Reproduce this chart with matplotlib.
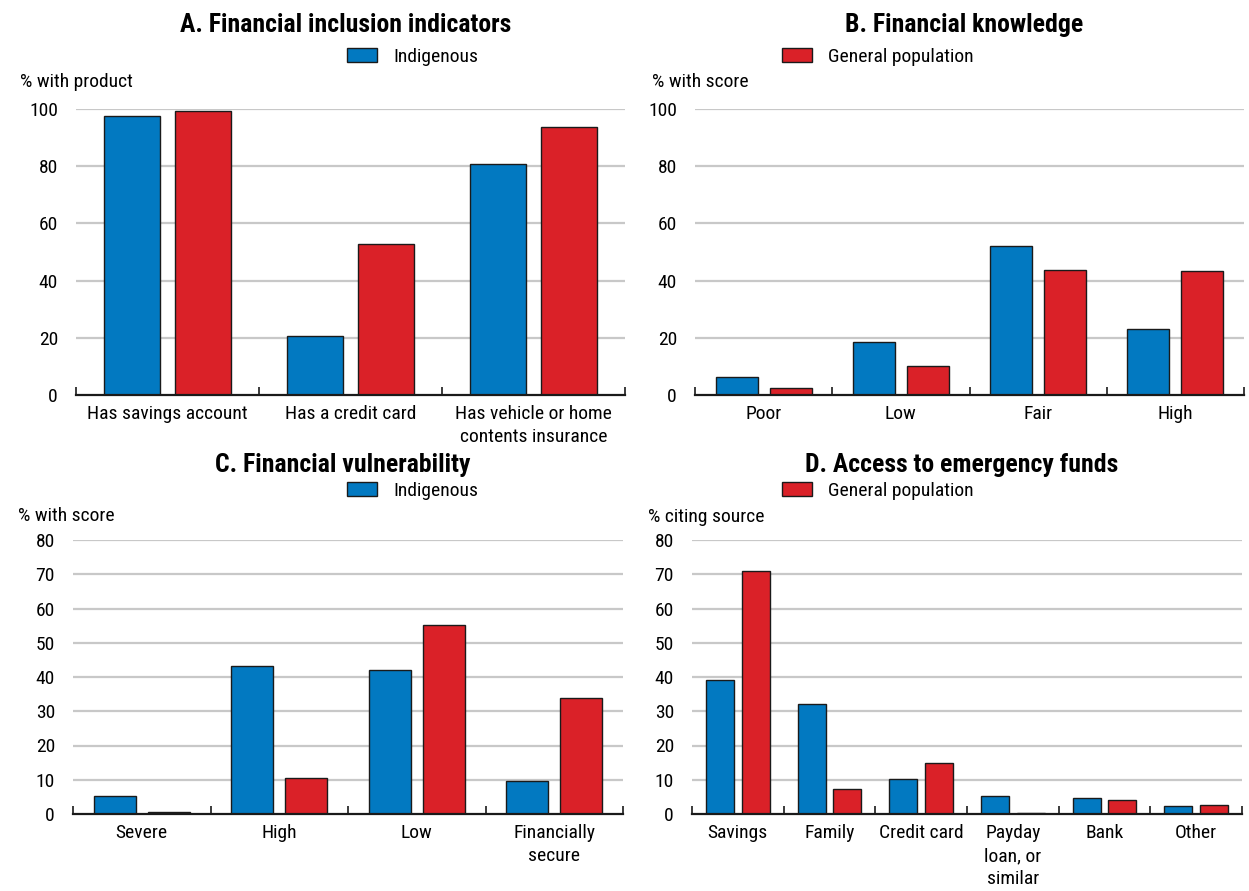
import matplotlib
matplotlib.use("Agg")
import matplotlib.pyplot as plt
import numpy as np
from matplotlib.patches import Patch
from matplotlib.ticker import FixedLocator
from matplotlib import font_manager

# ---- data ----
cats_a = ["Has savings account", "Has a credit card", "Has vehicle or home\ncontents insurance"]
indig_a = [97.6, 20.7, 80.8]
gen_a = [99.3, 52.8, 93.7]

cats_b = ["Poor", "Low", "Fair", "High"]
indig_b = [6.3, 18.5, 52.1, 23.0]
gen_b = [2.4, 10.2, 43.7, 43.5]

cats_c = ["Severe", "High", "Low", "Financially\nsecure"]
indig_c = [5.3, 43.2, 42.0, 9.6]
gen_c = [0.6, 10.5, 55.2, 33.9]

cats_d = ["Savings", "Family", "Credit card", "Payday\nloan, or\nsimilar", "Bank", "Other"]
indig_d = [39.2, 32.0, 10.2, 5.3, 4.8, 2.2]
gen_d = [71.0, 7.3, 15.0, 0.2, 4.1, 2.5]

# ---- font choice: prefer a narrow sans ----
names = {f.name for f in font_manager.fontManager.ttflist}
narrow = [n for n in names if ("Narrow" in n or "Condensed" in n)]
pref = ["Liberation Sans Narrow", "Arial Narrow", "Roboto Condensed", "DejaVu Sans Condensed"]
chosen = None
for p in pref:
    if p in names:
        chosen = p
        break
if chosen is None and narrow:
    chosen = sorted(narrow)[0]
if chosen is None:
    FAM = ['Liberation Sans', 'DejaVu Sans']
    FS, TFS = 12.2, 16.8
else:
    FAM = [chosen, 'Liberation Sans', 'DejaVu Sans']
    FS, TFS = 14, 18.5
plt.rcParams['font.family'] = FAM

BLUE = "#0279C1"
RED = "#DA2128"
W, H = 1249, 891

fig = plt.figure(figsize=(W / 100, H / 100), dpi=100)


def make_ax(left, right, top, bottom):
    return fig.add_axes([left / W, 1 - bottom / H, (right - left) / W, (bottom - top) / H])


def panel(ax, cats, s1, s2, ymax, step, title, ylabel, title_y, legend_label, legend_color, legend_x, legend_y, ylab_x, ylab_y):
    n = len(cats)
    x = np.arange(n)
    bw = 0.306
    off = 0.196
    ax.bar(x - off, s1, width=bw, color=BLUE, edgecolor="#1a1a1a", linewidth=1.0, zorder=3)
    ax.bar(x + off, s2, width=bw, color=RED, edgecolor="#1a1a1a", linewidth=1.0, zorder=3)
    ax.set_xlim(-0.5, n - 0.5)
    ax.set_ylim(0, ymax)
    yt = np.arange(0, ymax + 0.1, step)
    ax.set_yticks(yt)
    ax.set_yticklabels([f"{int(v)}" for v in yt], fontsize=FS)
    for v in yt[1:]:
        ax.axhline(v, color="#c8c8c8", linewidth=1.6, zorder=1)
    ax.set_xticks(x)
    ax.set_xticklabels(cats, fontsize=FS, linespacing=1.38)
    ax.xaxis.set_minor_locator(FixedLocator(np.arange(-0.5, n, 1.0)))
    ax.tick_params(axis="x", which="major", length=0, pad=7)
    ax.tick_params(axis="x", which="minor", direction="in", length=6, width=1.2, color="#1a1a1a")
    ax.tick_params(axis="y", length=0, pad=13)
    for s in ["top", "right", "left"]:
        ax.spines[s].set_visible(False)
    ax.spines["bottom"].set_linewidth(1.6)
    ax.spines["bottom"].set_color("#1a1a1a")
    ax.spines["bottom"].set_zorder(4)
    fig.text(ax.get_position().x0 + ax.get_position().width / 2 - 0.004, 1 - title_y / H, title,
             fontsize=TFS, fontweight="bold", ha="center", va="center")
    fig.text(ylab_x / W, 1 - ylab_y / H, ylabel, fontsize=FS, ha="left", va="center")
    fig.legend(handles=[Patch(facecolor=legend_color, edgecolor="#1a1a1a", linewidth=1.0, label=legend_label)],
               loc="center left", bbox_to_anchor=(legend_x / W, 1 - legend_y / H), frameon=False,
               fontsize=FS, handlelength=1.55, handleheight=0.72, handletextpad=0.82, borderpad=0, borderaxespad=0)


axA = make_ax(76, 625, 109, 395)
panel(axA, cats_a, indig_a, gen_a, 100, 20, "A. Financial inclusion indicators", "% with product",
      25, "Indigenous", BLUE, 347, 57, 20, 82)
axB = make_ax(695, 1244, 109, 395)
panel(axB, cats_b, indig_b, gen_b, 100, 20, "B. Financial knowledge", "% with score",
      25, "General population", RED, 782, 57, 652, 82)
axC = make_ax(73, 623, 540, 814)
panel(axC, cats_c, indig_c, gen_c, 80, 10, "C. Financial vulnerability", "% with score",
      465, "Indigenous", BLUE, 347, 491, 18, 516)
axD = make_ax(692, 1242, 540, 814)
panel(axD, cats_d, indig_d, gen_d, 80, 10, "D. Access to emergency funds", "% citing source",
      465, "General population", RED, 782, 491, 648, 517)

fig.savefig("out.png", dpi=100)
